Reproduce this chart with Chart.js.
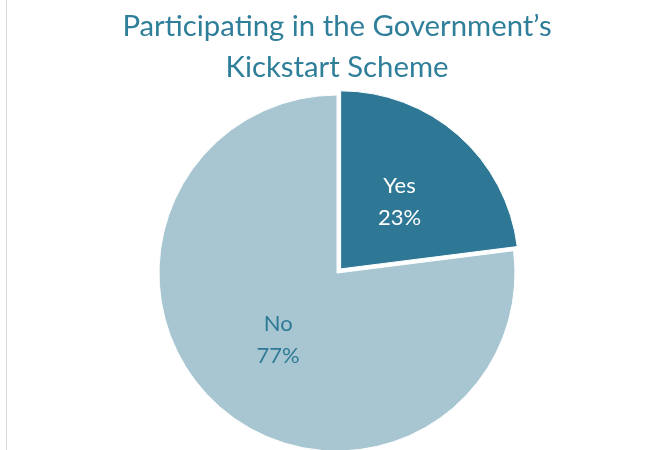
<!DOCTYPE html>
<html>
<head>
<meta charset="utf-8">
<script src="https://cdn.jsdelivr.net/npm/chart.js@4"></script>
<style>
    html, body { margin: 0; padding: 0; background: #fff; overflow: hidden; }
    #frame { position: relative; width: 670px; height: 450px; overflow: hidden; }
    #edge { position: absolute; left: 6px; top: 0; width: 1px; height: 450px; background: #dcdcdc; }
    #wrap { position: absolute; left: 0; top: 0; width: 670px; height: 458px; }
</style>
</head>
<body>
<div id="frame">
    <div id="edge"></div>
    <div id="wrap"><canvas id="pieChart"></canvas></div>
</div>
<script>
const titleLines = ['Participating in the Government\u2019s', 'Kickstart Scheme'];
const labels = ['Yes', 'No'];
const shares = [23, 77];
const sliceColors = ['#2e7896', '#a7c6d1'];
const labelColors = ['#ffffff', '#2e7a96'];
const sliceOffsets = [22, 0];

// writes "Label / NN%" in the middle of each slice (arc offset moves the slice by offset/4)
const sliceLabels = {
    id: 'sliceLabels',
    afterDatasetsDraw(chart) {
        const ctx = chart.ctx;
        const meta = chart.getDatasetMeta(0);
        meta.data.forEach((arc, i) => {
            const half = (arc.startAngle + arc.endAngle) / 2;
            const r = (arc.innerRadius + arc.outerRadius) / 2 + sliceOffsets[i] / 4;
            const x = arc.x + Math.cos(half) * r;
            const y = arc.y + Math.sin(half) * r;
            ctx.save();
            ctx.font = '22px Lato';
            ctx.fillStyle = labelColors[i];
            ctx.textAlign = 'center';
            ctx.textBaseline = 'middle';
            ctx.fillText(labels[i], x, y - 16);
            ctx.fillText(shares[i] + '%', x, y + 16);
            ctx.restore();
        });
    }
};

new Chart(document.getElementById('pieChart').getContext('2d'), {
    type: 'pie',
    data: {
        labels: labels,
        datasets: [{
            data: shares,
            backgroundColor: sliceColors,
            borderColor: '#ffffff',
            borderWidth: 1,
            offset: sliceOffsets,
            clip: false
        }]
    },
    options: {
        responsive: true,
        maintainAspectRatio: false,
        animation: false,
        radius: 178,
        layout: {
            padding: { left: 4, right: 0, top: 0, bottom: 0 }
        },
        plugins: {
            legend: { display: false },
            tooltip: { enabled: false },
            title: {
                display: true,
                text: titleLines,
                color: '#2f7e9a',
                font: { family: 'Lato', size: 29.3, weight: 'normal', lineHeight: 1.4 },
                padding: { top: 6, bottom: 0 }
            }
        }
    },
    plugins: [sliceLabels]
});
</script>
</body>
</html>
